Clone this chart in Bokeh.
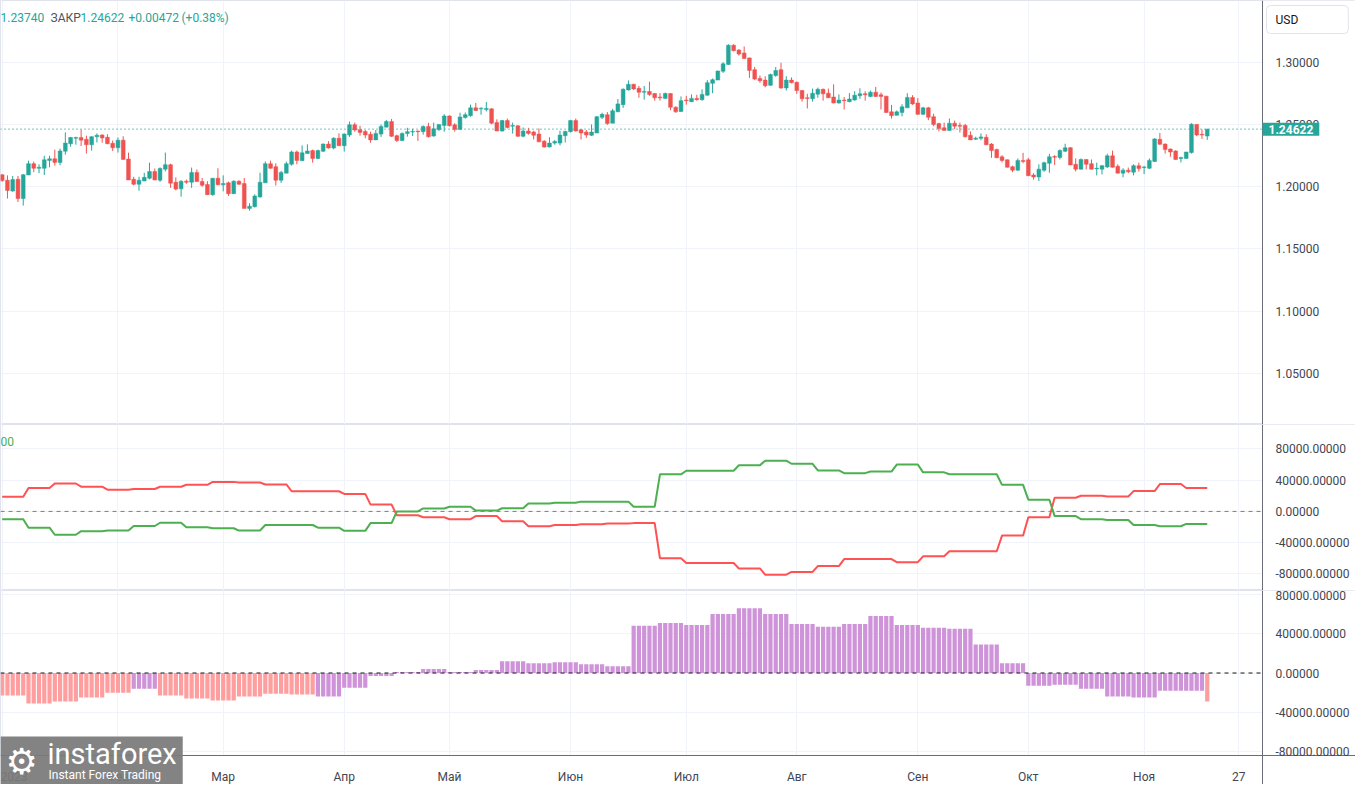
from bokeh.plotting import figure
from bokeh.models import Range1d, FixedTicker, PrintfTickFormatter, Label, ColumnDataSource
from bokeh.layouts import column
from bokeh.embed import file_html
from bokeh.resources import INLINE

# ---------------- data: GBP/USD daily candles (Jan 2 .. Nov 17, 2023) ----------------
opens = [
1.2096,1.2052,1.1965,1.2060,1.1905,1.2094,1.2185,1.2148,1.2148,1.2211,
1.2224,1.2195,1.2285,1.2345,1.2389,1.2395,1.2381,1.2337,1.2402,1.2415,
1.2397,1.2348,1.2313,1.2374,1.2222,1.2060,1.2020,1.2046,1.2068,1.2122,
1.2052,1.2141,1.2177,1.2036,1.1983,1.2044,1.2036,1.2115,1.2041,1.2018,
1.1936,1.2068,1.2015,1.2031,1.1944,1.2044,1.2026,1.1826,1.1839,1.1918,
1.2031,1.2185,1.2161,1.2052,1.2109,1.2180,1.2279,1.2209,1.2266,1.2290,
1.2227,1.2285,1.2342,1.2311,1.2389,1.2329,1.2415,1.2497,1.2457,1.2444,
1.2421,1.2376,1.2423,1.2478,1.2523,1.2410,1.2371,1.2428,1.2439,1.2447,
1.2442,1.2484,1.2407,1.2460,1.2492,1.2568,1.2497,1.2460,1.2555,1.2570,
1.2633,1.2625,1.2620,1.2625,1.2515,1.2447,1.2531,1.2486,1.2489,1.2405,
1.2447,1.2439,1.2423,1.2366,1.2319,1.2350,1.2350,1.2410,1.2442,1.2531,
1.2457,1.2439,1.2413,1.2431,1.2557,1.2578,1.2510,1.2601,1.2659,1.2777,
1.2822,1.2790,1.2759,1.2764,1.2748,1.2720,1.2709,1.2748,1.2638,1.2604,
1.2696,1.2683,1.2709,1.2699,1.2735,1.2830,1.2856,1.2927,1.2982,1.3136,
1.3097,1.3073,1.3034,1.2940,1.2869,1.2856,1.2814,1.2893,1.2940,1.2793,
1.2856,1.2838,1.2772,1.2714,1.2706,1.2743,1.2782,1.2751,1.2720,1.2672,
1.2696,1.2683,1.2696,1.2730,1.2746,1.2725,1.2759,1.2738,1.2727,1.2601,
1.2573,1.2596,1.2633,1.2717,1.2672,1.2581,1.2633,1.2562,1.2507,1.2473,
1.2452,1.2510,1.2492,1.2492,1.2413,1.2381,1.2389,1.2397,1.2342,1.2298,
1.2240,1.2216,1.2161,1.2133,1.2211,1.2216,1.2094,1.2078,1.2133,1.2188,
1.2243,1.2235,1.2285,1.2313,1.2180,1.2141,1.2219,1.2185,1.2143,1.2141,
1.2159,1.2248,1.2164,1.2109,1.2133,1.2117,1.2169,1.2154,1.2148,1.2203,
1.2381,1.2342,1.2303,1.2287,1.2227,1.2227,1.2274,1.2500,1.2421,1.2407]
highs = [
1.2101,1.2091,1.2086,1.2086,1.2101,1.2209,1.2201,1.2180,1.2248,1.2248,
1.2298,1.2306,1.2436,1.2400,1.2402,1.2460,1.2410,1.2405,1.2428,1.2421,
1.2421,1.2371,1.2395,1.2405,1.2274,1.2080,1.2080,1.2112,1.2193,1.2146,
1.2156,1.2274,1.2185,1.2075,1.2052,1.2057,1.2154,1.2138,1.2070,1.2044,
1.2070,1.2148,1.2091,1.2041,1.2052,1.2052,1.2070,1.1868,1.1939,1.2112,
1.2203,1.2209,1.2188,1.2127,1.2201,1.2290,1.2290,1.2332,1.2340,1.2298,
1.2298,1.2348,1.2366,1.2397,1.2428,1.2428,1.2523,1.2515,1.2489,1.2455,
1.2442,1.2455,1.2500,1.2536,1.2544,1.2418,1.2436,1.2473,1.2465,1.2452,
1.2492,1.2513,1.2515,1.2502,1.2583,1.2573,1.2510,1.2594,1.2596,1.2659,
1.2672,1.2638,1.2680,1.2630,1.2541,1.2536,1.2547,1.2515,1.2494,1.2476,
1.2473,1.2450,1.2468,1.2374,1.2397,1.2376,1.2450,1.2450,1.2536,1.2547,
1.2460,1.2455,1.2500,1.2568,1.2594,1.2599,1.2625,1.2704,1.2790,1.2853,
1.2827,1.2809,1.2809,1.2843,1.2751,1.2751,1.2756,1.2751,1.2646,1.2725,
1.2730,1.2741,1.2738,1.2782,1.2856,1.2869,1.2932,1.3000,1.3144,1.3144,
1.3105,1.3126,1.3037,1.2961,1.2893,1.2887,1.2908,1.2961,1.2995,1.2887,
1.2877,1.2845,1.2777,1.2746,1.2788,1.2796,1.2788,1.2788,1.2822,1.2741,
1.2720,1.2751,1.2767,1.2790,1.2767,1.2772,1.2801,1.2756,1.2730,1.2657,
1.2612,1.2662,1.2751,1.2735,1.2712,1.2641,1.2641,1.2586,1.2513,1.2515,
1.2547,1.2531,1.2515,1.2505,1.2444,1.2402,1.2428,1.2421,1.2350,1.2306,
1.2253,1.2219,1.2169,1.2227,1.2272,1.2232,1.2109,1.2180,1.2201,1.2264,
1.2253,1.2300,1.2345,1.2319,1.2227,1.2227,1.2222,1.2219,1.2193,1.2175,
1.2264,1.2290,1.2180,1.2148,1.2154,1.2180,1.2193,1.2167,1.2227,1.2389,
1.2431,1.2348,1.2306,1.2293,1.2240,1.2279,1.2510,1.2502,1.2460,1.2465]
lows = [
1.2039,1.1905,1.1960,1.1878,1.1849,1.2094,1.2117,1.2109,1.2094,1.2156,
1.2169,1.2172,1.2258,1.2321,1.2337,1.2327,1.2266,1.2290,1.2355,1.2353,
1.2342,1.2287,1.2274,1.2219,1.2054,1.2010,1.1968,1.2046,1.2060,1.2054,
1.2039,1.2122,1.1991,1.1970,1.1920,1.2023,1.1991,1.2039,1.1999,1.1936,
1.1928,1.2012,1.1963,1.1926,1.1944,1.2015,1.1826,1.1808,1.1834,1.1912,
1.2031,1.2143,1.2010,1.2031,1.2109,1.2169,1.2180,1.2209,1.2266,1.2193,
1.2222,1.2279,1.2306,1.2300,1.2329,1.2282,1.2400,1.2442,1.2410,1.2389,
1.2353,1.2376,1.2400,1.2478,1.2400,1.2358,1.2366,1.2402,1.2407,1.2368,
1.2418,1.2395,1.2402,1.2447,1.2442,1.2484,1.2442,1.2460,1.2547,1.2562,
1.2609,1.2578,1.2604,1.2502,1.2447,1.2442,1.2468,1.2426,1.2400,1.2397,
1.2418,1.2379,1.2358,1.2313,1.2316,1.2337,1.2332,1.2355,1.2436,1.2444,
1.2379,1.2392,1.2407,1.2431,1.2544,1.2497,1.2510,1.2601,1.2633,1.2772,
1.2777,1.2714,1.2699,1.2730,1.2691,1.2691,1.2709,1.2615,1.2594,1.2601,
1.2659,1.2680,1.2691,1.2691,1.2730,1.2751,1.2856,1.2914,1.2979,1.3086,
1.3052,1.3026,1.2874,1.2856,1.2835,1.2798,1.2811,1.2882,1.2785,1.2772,
1.2830,1.2746,1.2683,1.2628,1.2683,1.2714,1.2691,1.2712,1.2670,1.2667,
1.2620,1.2678,1.2691,1.2706,1.2691,1.2720,1.2720,1.2620,1.2594,1.2547,
1.2573,1.2565,1.2633,1.2657,1.2578,1.2578,1.2534,1.2486,1.2444,1.2452,
1.2452,1.2463,1.2436,1.2395,1.2376,1.2376,1.2374,1.2334,1.2232,1.2232,
1.2195,1.2154,1.2117,1.2127,1.2188,1.2086,1.2057,1.2046,1.2120,1.2112,
1.2175,1.2219,1.2279,1.2172,1.2122,1.2138,1.2138,1.2138,1.2091,1.2099,
1.2151,1.2154,1.2107,1.2075,1.2109,1.2091,1.2122,1.2101,1.2143,1.2198,
1.2337,1.2266,1.2240,1.2216,1.2195,1.2227,1.2266,1.2405,1.2384,1.2376]
closes = [
1.2049,1.1970,1.2057,1.1905,1.2096,1.2185,1.2148,1.2156,1.2216,1.2224,
1.2195,1.2287,1.2350,1.2395,1.2395,1.2374,1.2337,1.2402,1.2413,1.2392,
1.2345,1.2313,1.2374,1.2219,1.2054,1.2020,1.2052,1.2075,1.2122,1.2054,
1.2146,1.2177,1.2028,1.1981,1.2044,1.2036,1.2115,1.2041,1.2012,1.1936,
1.2068,1.2015,1.2026,1.1944,1.2044,1.2020,1.1826,1.1844,1.1926,1.2036,
1.2185,1.2148,1.2052,1.2115,1.2185,1.2279,1.2211,1.2272,1.2287,1.2227,
1.2290,1.2342,1.2311,1.2389,1.2329,1.2423,1.2497,1.2455,1.2436,1.2415,
1.2376,1.2428,1.2484,1.2523,1.2405,1.2371,1.2428,1.2442,1.2444,1.2442,
1.2484,1.2402,1.2465,1.2500,1.2568,1.2489,1.2460,1.2560,1.2578,1.2633,
1.2612,1.2630,1.2628,1.2510,1.2447,1.2531,1.2476,1.2492,1.2405,1.2447,
1.2428,1.2413,1.2360,1.2319,1.2350,1.2363,1.2415,1.2444,1.2531,1.2447,
1.2431,1.2415,1.2439,1.2562,1.2581,1.2507,1.2609,1.2665,1.2782,1.2822,
1.2785,1.2759,1.2764,1.2741,1.2714,1.2714,1.2748,1.2638,1.2601,1.2691,
1.2691,1.2709,1.2699,1.2741,1.2835,1.2859,1.2929,1.2987,1.3136,1.3092,
1.3065,1.3029,1.2934,1.2864,1.2851,1.2811,1.2900,1.2934,1.2793,1.2856,
1.2835,1.2772,1.2706,1.2709,1.2751,1.2782,1.2746,1.2714,1.2672,1.2696,
1.2691,1.2704,1.2735,1.2746,1.2738,1.2759,1.2725,1.2725,1.2596,1.2570,
1.2601,1.2641,1.2717,1.2665,1.2581,1.2633,1.2557,1.2500,1.2468,1.2452,
1.2510,1.2486,1.2486,1.2402,1.2376,1.2389,1.2400,1.2337,1.2290,1.2232,
1.2211,1.2156,1.2133,1.2211,1.2203,1.2088,1.2078,1.2141,1.2193,1.2240,
1.2237,1.2290,1.2313,1.2175,1.2141,1.2219,1.2180,1.2141,1.2148,1.2169,
1.2248,1.2156,1.2109,1.2133,1.2120,1.2169,1.2146,1.2159,1.2211,1.2384,
1.2340,1.2298,1.2279,1.2219,1.2235,1.2279,1.2502,1.2415,1.2415,1.24622]

last_price = 1.24622

# month tick labels (bar index of first bar of each month)
month_ticks = [0, 22, 42, 65, 85, 108, 130, 151, 174, 195, 217, 235]
month_labels = ["2023", "Фев", "Мар", "Апр", "Май", "Июн", "Июл", "Авг", "Сен", "Окт", "Ноя", "27"]

price_ticks = [1.05, 1.10, 1.15, 1.20, 1.25, 1.30]
cot_ticks = [-80000, -40000, 0, 40000, 80000]

# ---------------- weekly COT net positions (46 trading weeks) ----------------
week_start = list(range(0, 230, 5))
red_net = [18700, 29900, 35700, 31600, 27800, 28700, 31600, 34100, 37800, 37000,
           34500, 25800, 25800, 22400, 8700, -5000, -7500, -10000, -6000, -12500,
           -19000, -17500, -16500, -15500, -15000, -60000, -66000, -66000, -73000, -81000,
           -77500, -70000, -61000, -61000, -65000, -57500, -51000, -51000, -31000, -7500,
           17500, 20000, 19000, 26000, 35000, 30000]
green_net = [-10000, -20800, -29900, -25300, -24500, -18700, -14500, -20400, -21600, -24500,
             -17400, -17400, -20800, -24900, -15000, 0, 3800, 6000, 1000, 4000,
             10000, 11000, 12500, 12500, 6000, 47500, 52000, 52000, 59000, 65000,
             61000, 52500, 49000, 51000, 60000, 50000, 47500, 47500, 34000, 15000,
             -6000, -10000, -11000, -17500, -19000, -16000]

# histogram segments: first bar index of each segment, value, colour group
hist_start = list(range(0, 230, 5)) + [229]
hist_vals = [-23000, -31000, -29000, -25000, -20000, -16000, -23000, -26000, -28000, -24000,
             -21000, -22000, -24000, -15000, -3000, 1000, 4000, 1000, 3000, 12000,
             10000, 11000, 9000, 7000, 48000, 51000, 49000, 60000, 66000, 60000,
             50000, 47000, 50000, 58000, 49000, 46000, 45000, 29000, 10000, -13000,
             -12000, -16000, -24000, -25000, -18000, -18000, -29000]
hist_group = ["s"] * 5 + ["p"] + ["s"] * 6 + ["p"] * 34 + ["s"]

# ---------------- styling / geometry ----------------
UP = "#26a69a"
DOWN = "#ef5350"
GRID = "#f0f3fa"
TXT = "#434651"
AXL = "#6a6d78"
FONT = "Roboto"
FW = 1355                      # full canvas width (frame covers the price-scale column too)
AXPX = 1262                    # pixel position of the price scale line
X0, AX = -0.32, 239.5          # visible bar range left of the price scale
X1 = X0 + (AX - X0) * FW / AXPX
H1, H2, H3 = 424, 166, 194
H3_PLOT = 165                  # histogram area above the time axis
Y3_TOP = 84000
Y3_AX = -84000
Y3_BOT = Y3_AX - (H3 - H3_PLOT) * (Y3_TOP - Y3_AX) / H3_PLOT

x_range = Range1d(X0, X1)


def make_fig(fh, yr, ticks, xaxis=False):
    p = figure(frame_width=FW, frame_height=fh, x_range=x_range, y_range=yr,
               toolbar_location=None, output_backend="svg",
               y_axis_location="right", x_axis_location=("below" if xaxis else None),
               min_border_left=0, min_border_right=0, min_border_top=0, min_border_bottom=0,
               background_fill_color="white", border_fill_color="white",
               outline_line_color="#e0e3eb")
    p.xgrid.ticker = FixedTicker(ticks=month_ticks)
    p.xgrid.grid_line_color = GRID
    p.ygrid.ticker = FixedTicker(ticks=ticks)
    p.ygrid.grid_line_color = GRID
    ya = p.yaxis[0]
    ya.fixed_location = AX
    ya.ticker = FixedTicker(ticks=ticks)
    ya.formatter = PrintfTickFormatter(format="%.5f")
    ya.axis_line_color = AXL
    ya.major_tick_line_color = None
    ya.minor_tick_line_color = None
    ya.major_label_standoff = 7
    ya.major_label_text_font = FONT
    ya.major_label_text_font_size = "12px"
    ya.major_label_text_color = TXT
    if xaxis:
        xa = p.xaxis[0]
        xa.fixed_location = Y3_AX
        xa.ticker = FixedTicker(ticks=month_ticks)
        xa.major_label_overrides = {t: l for t, l in zip(month_ticks, month_labels)}
        xa.axis_line_color = AXL
        xa.major_tick_line_color = None
        xa.minor_tick_line_color = None
        xa.major_label_standoff = 8
        xa.major_label_text_font = FONT
        xa.major_label_text_font_size = "12px"
        xa.major_label_text_color = TXT
    # blank price-scale column
    p.quad(left=AX, right=X1, bottom=yr.start, top=yr.end, fill_color="white", line_color=None)
    return p


# ---------------- price panel ----------------
yr1 = Range1d(1.0091, 1.3495)
p1 = make_fig(H1, yr1, price_ticks)
idx = list(range(len(opens)))
col = [UP if c >= o else DOWN for o, c in zip(opens, closes)]
src = ColumnDataSource(dict(x=idx, o=opens, h=highs, l=lows, c=closes,
                            top=[max(o, c) for o, c in zip(opens, closes)],
                            bot=[min(o, c) for o, c in zip(opens, closes)], col=col))
p1.segment(x0="x", y0="h", x1="x", y1="l", color="col", line_width=1, source=src)
p1.vbar(x="x", top="top", bottom="bot", width=0.72, fill_color="col", line_color="col",
        line_width=0.5, source=src)
p1.segment(x0=[X0], y0=[last_price], x1=[AX], y1=[last_price], line_color=UP,
           line_dash="1 3", line_width=1.3)

hdr = [("1.23740", 0, UP), ("ЗАКР", 50, "#50535e"), ("1.24622", 80, UP),
       ("+0.00472", 128, UP), ("(+0.38%)", 181, UP)]
for t, xx, cc in hdr:
    p1.add_layout(Label(x=xx, y=H1 - 17, x_units="screen", y_units="screen", text=t,
                        text_color=cc, text_font=FONT, text_font_size="12px",
                        text_baseline="middle"))
p1.add_layout(Label(x=AX, y=last_price, x_units="data", y_units="data",
                    text=f"{last_price:.5f}", text_color="white", text_font=FONT,
                    text_font_size="12px", text_font_style="bold", text_baseline="middle",
                    background_fill_color=UP,
                    padding=dict(left=6, right=6, top=2, bottom=2)))
p1.add_layout(Label(x=AXPX + 4, y=H1 - 19, x_units="screen", y_units="screen", text="USD",
                    text_color="#131722", text_font=FONT, text_font_size="12px",
                    text_baseline="middle", background_fill_color="white",
                    border_line_color="#e0e3eb", border_radius=4,
                    padding=dict(left=9, right=50, top=7, bottom=7)))

# ---------------- COT lines panel ----------------
yr2 = Range1d(-101250, 111250)
p2 = make_fig(H2, yr2, cot_ticks)
lx, ry, gy = [], [], []
for s, r, g in zip(week_start, red_net, green_net):
    lx += [s, s + 4]
    ry += [r, r]
    gy += [g, g]
p2.segment(x0=[X0], y0=[0], x1=[AX], y1=[0], line_color="#787b86",
           line_dash="4 4", line_width=1)
p2.line(lx, ry, line_color="#ff5252", line_width=2)
p2.line(lx, gy, line_color="#4caf50", line_width=2)
p2.add_layout(Label(x=0, y=H2 - 17, x_units="screen", y_units="screen", text="00",
                    text_color="#4caf50", text_font=FONT, text_font_size="12px",
                    text_baseline="middle"))

# ---------------- histogram panel (with time axis) ----------------
yr3 = Range1d(Y3_BOT, Y3_TOP)
p3 = make_fig(H3, yr3, cot_ticks, xaxis=True)
p3.quad(left=X0, right=X1, bottom=Y3_BOT, top=Y3_AX, fill_color="white", line_color=None)
hx, hv, hc = [], [], []
cmap = {"s": "#ff9e9e", "p": "#ce93d8"}
for k, s in enumerate(hist_start):
    e = hist_start[k + 1] if k + 1 < len(hist_start) else len(opens)
    for d in range(s, e):
        hx.append(d)
        hv.append(hist_vals[k])
        hc.append(cmap[hist_group[k]])
p3.vbar(x=hx, top=hv, bottom=0, width=0.8, fill_color=hc, line_color=None)
p3.segment(x0=[X0], y0=[0], x1=[AX], y1=[0], line_color="#131722",
           line_dash="4 4", line_width=1)

# logo (bottom-left corner, over the time axis)
p3.add_layout(Label(x=0, y=0, x_units="screen", y_units="screen", text="instaforex",
                    text_color="white", text_font=FONT, text_font_size="29px",
                    text_baseline="bottom", background_fill_color="#7a7a7a",
                    background_fill_alpha=0.93,
                    padding=dict(left=47, right=6, top=0, bottom=14)))
p3.add_layout(Label(x=48, y=3, x_units="screen", y_units="screen",
                    text="Instant Forex Trading", text_color="white", text_font=FONT,
                    text_font_size="12px", text_baseline="bottom"))
p3.add_layout(Label(x=5, y=3, x_units="screen", y_units="screen", text="⚙",
                    text_color="white", text_font="DejaVu Sans", text_font_size="36px",
                    text_baseline="bottom"))

layout = column(p1, p2, p3, spacing=0)
open("out.html", "w").write(file_html(layout, INLINE))
